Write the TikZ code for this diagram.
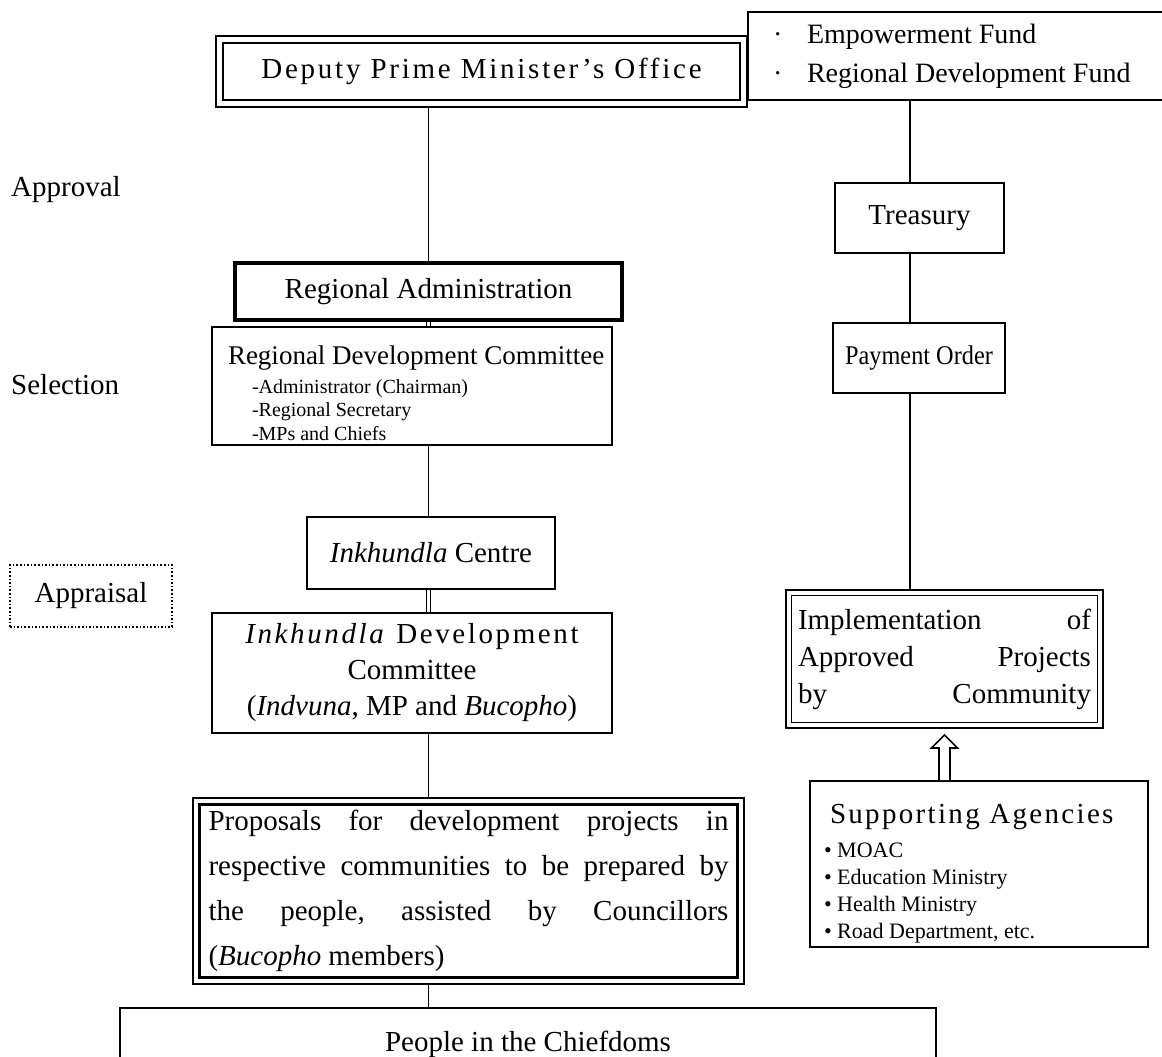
\documentclass[tikz,border=0pt]{standalone}
\usepackage{fontspec}
\setmainfont{Liberation Serif}
\usetikzlibrary{calc,positioning}

% wider tracking for a few labels
\newcommand{\tracked}[2]{{\addfontfeature{LetterSpace=#1}#2}}

\tikzset{
  txt/.style={font=\fontsize{29}{36}\selectfont},
  stage/.style={txt, inner sep=0pt, anchor=west},
  box/.style={txt, draw, line width=1.8pt, inner sep=0pt, align=center, fill=white},
  thickbox/.style={box, line width=3.2pt},
  dblbox/.style={box, line width=2.2pt, double, double distance=5pt, outer sep=4.7pt},
  conn/.style={line width=1.8pt},
  dblconn/.style={line width=1.1pt, double, double distance=2.2pt},
}

\begin{document}
\begin{tikzpicture}[x=1pt,y=-1pt]
        \useasboundingbox (0,0) rectangle (1162,1057);
        \clip (0,0) rectangle (1162,1057);

        % stage labels on the left
        \node[stage] (approval) at (11,190) {Approval};
        \node[stage] (selection) at (11,385) {Selection};
        \node[stage, anchor=center, draw, dotted, line width=1.6pt, minimum width=162pt, minimum height=62pt] (appraisal) at (91,596) {Appraisal};

        % left column boxes
        \node[dblbox, minimum width=523.6pt, minimum height=63.6pt] (dpm) at (481.5,71.5) {\tracked{9.5}{Deputy Prime Minister’s Office}};
        \node[thickbox, minimum width=387pt, minimum height=57pt] (ra) at (428.5,291.5) {Regional Administration};
        \node[box, text width=380pt, inner xsep=10pt, align=flush left, minimum height=118pt] (rdc) at (412,386) {%
            \rule{0pt}{33pt}\hspace*{6pt}\mbox{\fontsize{27}{32}\selectfont Regional Development Committee}\par\vspace{5pt}
            {\fontsize{20}{23.5}\selectfont
            \hspace*{30pt}-Administrator (Chairman)\\
            \hspace*{30pt}-Regional Secretary\\
            \hspace*{30pt}-MPs and Chiefs\par}};
        \node[box, minimum width=248pt, minimum height=72pt] (ic) at (431,553) {\textit{Inkhundla} Centre};
        \node[box, minimum width=400pt, minimum height=120pt] (idc) at (412,673) {%
            \tracked{9}{\textit{Inkhundla} Development}\\ Committee\\ (\textit{Indvuna}, MP and \textit{Bucopho})};
        \node[dblbox, line width=2.4pt, double distance=4pt, outer sep=4.4pt, text width=520pt, align=flush left,
              font=\fontsize{29}{45}\selectfont, minimum width=544.2pt, minimum height=179.2pt] (prop) at (468.5,891) {%
            Proposals\hfill for\hfill development\hfill projects\hfill in\\
            respective\hfill communities\hfill to\hfill be\hfill prepared\hfill by\\
            the\hfill people,\hfill assisted\hfill by\hfill Councillors\\
            (\textit{Bucopho} members)};
        \node[box, minimum width=816pt, minimum height=72pt] (people) at (528,1044) {People in the Chiefdoms};

        % right column boxes
        \node[box, line width=2.4pt, text width=390pt, align=flush left, inner xsep=25pt, minimum height=88pt,
              font=\fontsize{28}{39}\selectfont] (fund) at (968,56) {%
            \makebox[34pt][l]{\textperiodcentered}Empowerment Fund\\
            \makebox[34pt][l]{\textperiodcentered}Regional Development Fund};
        \node[box, minimum width=169pt, minimum height=70pt] (treasury) at (919.5,218) {Treasury};
        \node[box, minimum width=172pt, minimum height=70pt, font=\fontsize{27}{32}\selectfont] (payment) at (919,358) {\scalebox{0.9}[1]{Payment Order}};
        \node[dblbox, line width=1.6pt, double distance=4pt, outer sep=3.6pt, text width=293pt, align=flush left,
              font=\fontsize{29}{37}\selectfont, minimum width=311.8pt, minimum height=132.8pt] (impl) at (944.5,659) {%
            Implementation\hfill of\\ Approved\hfill Projects\\ by\hfill Community};
        \node[box, text width=298pt, inner xsep=20pt, align=flush left, minimum height=166pt] (supp) at (979,864) {%
            \rule{0pt}{38pt}\tracked{8}{Supporting Agencies}\par\vspace{7pt}
            {\fontsize{22}{27}\selectfont
            \hspace*{-6pt}\textbullet\ MOAC\\
            \hspace*{-6pt}\textbullet\ Education Ministry\\
            \hspace*{-6pt}\textbullet\ Health Ministry\\
            \hspace*{-6pt}\textbullet\ Road Department, etc.\par}};

        % left column connectors
        \draw[conn] (dpm.south -| ra.north) -- (ra.north);
        \draw[dblconn] (ra.south) -- (ra.south |- rdc.north);
        \draw[conn] (rdc.south -| ra.south) -- (ic.north -| ra.south);
        \draw[dblconn] (ic.south -| ra.south) -- (idc.north -| ra.south);
        \draw[conn] (idc.south -| ra.south) -- (prop.north -| ra.south);
        \draw[conn] (prop.south -| ra.south) -- (people.north -| ra.south);

        % right column connectors
        \coordinate (rcol) at (910,0);
        \draw[conn] (fund.south -| rcol) -- (treasury.north -| rcol);
        \draw[conn] (treasury.south -| rcol) -- (payment.north -| rcol);
        \draw[conn] (payment.south -| rcol) -- (impl.north -| rcol);

        % hollow arrow from the agencies up to implementation
        \coordinate (abot) at (supp.north -| impl.south);
        \coordinate (atop) at (impl.south);
        \draw[line width=1.6pt, fill=white, line join=miter]
            ($(abot)+(-5.5,0)$) -- ($(atop)+(-5.5,19)$) -- ($(atop)+(-13,19)$) -- ($(atop)+(0,6)$)
            -- ($(atop)+(13,19)$) -- ($(atop)+(5.5,19)$) -- ($(abot)+(5.5,0)$);
\end{tikzpicture}
\end{document}
